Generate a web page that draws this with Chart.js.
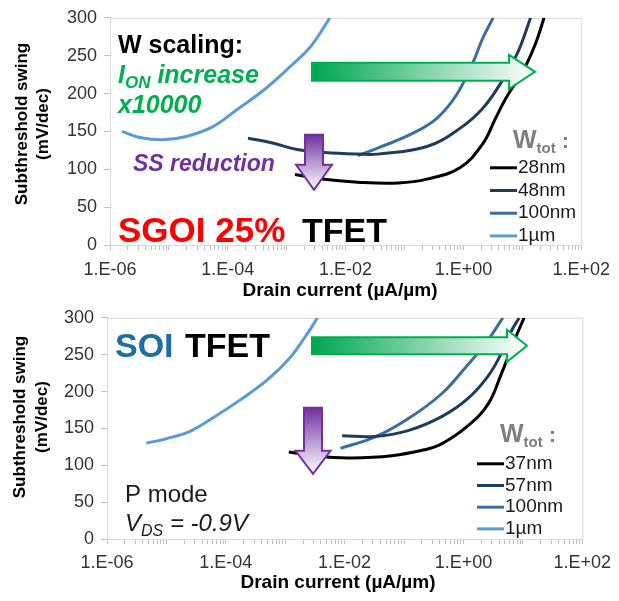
<!DOCTYPE html>
<html>
<head>
<meta charset="utf-8">
<script src="https://cdn.jsdelivr.net/npm/chart.js@4.4.1/dist/chart.umd.min.js"></script>
<style>
  body { margin: 0; background: #fff; }
  canvas { display: block; }
</style>
</head>
<body>
<canvas id="sgoiChart" width="619" height="300"></canvas>
<canvas id="soiChart" width="619" height="301"></canvas>
<script>
// SS vs drain current (current in uA/um, SS in mV/dec)
const sgoiLabels = ['28nm', '48nm', '100nm', '1µm'];
const sgoiI28 = [1.38e-3, 3.9e-3, 1.6e-2, 7.9e-2, 0.24, 0.87, 2.1, 3.5, 5.2, 7.8, 11.5, 17, 23.4];
const sgoiSS28 = [93, 87, 83, 82, 87, 102, 133, 167, 193, 215, 237, 267, 300];
const sgoiI48 = [2.2e-4, 5.5e-4, 1.5e-3, 4.4e-3, 1.6e-2, 3.5e-2, 0.24, 0.87, 2.1, 4.1, 6.0, 8.9, 13.8];
const sgoiSS48 = [141, 135, 126, 122, 120, 120, 130, 154, 180, 211, 233, 259, 300];
const sgoiI100 = [1.6e-2, 3.5e-2, 0.126, 0.35, 0.76, 1.45, 2.1, 3.2];
const sgoiSS100 = [118, 128, 146, 167, 198, 241, 272, 300];
const sgoiI1u = [1.6e-6, 3.2e-6, 7.9e-6, 1.9e-5, 5.5e-5, 1.5e-4, 4.3e-4, 1.2e-3, 2.6e-3, 5.4e-3];
const sgoiSS1u = [150, 142, 139, 143, 156, 180, 206, 237, 263, 300];

const soiLabels = ['37nm', '57nm', '100nm', '1µm'];
const soiI37 = [1.15e-3, 3.6e-3, 1.3e-2, 6.2e-2, 0.22, 0.43, 1.17, 2.6, 4.3, 6.3, 8.1, 10.5];
const soiSS37 = [118, 112, 110, 113, 121, 129, 153, 183, 223, 257, 279, 300];
const soiI57 = [9.1e-3, 3.2e-2, 0.117, 0.43, 1.17, 2.6, 4.3, 6.3, 8.7];
const soiSS57 = [140, 139, 147, 166, 190, 221, 251, 281, 300];
const soiI100 = [8.5e-3, 3.2e-2, 0.117, 0.43, 1.12, 2.4, 4.6];
const soiSS100 = [123, 138, 163, 197, 234, 266, 300];
const soiI1u = [4.6e-6, 1e-5, 2.5e-5, 6e-5, 1.7e-4, 4.7e-4, 1.15e-3, 2.2e-3, 3.5e-3];
const soiSS1u = [130, 136, 146, 164, 188, 214, 244, 275, 300];

// axis ticks
const xTickValues = [1e-6, 1e-4, 1e-2, 1, 100];
const xTickLabels = ['1.E-06', '1.E-04', '1.E-02', '1.E+00', '1.E+02'];
const yTickValues = [0, 50, 100, 150, 200, 250, 300];

const lineColors = ['#000000', '#1F3B5E', '#3D6D9E', '#5B9BD5'];
const FONT = '"Liberation Sans", Arial, sans-serif';

function pairs(xs, ys) {
    return xs.map((x, i) => ({ x: x, y: ys[i] }));
}

function makeDatasets(labels, series) {
    return series.map((s, i) => ({
        label: labels[i],
        data: pairs(s[0], s[1]),
        borderColor: lineColors[i],
        backgroundColor: lineColors[i],
        borderWidth: 3,
        pointRadius: 0,
        tension: 0.4,
        fill: false
    }));
}

// log ticks 1..9 per decade
function logTicks() {
    const out = [];
    for (let e = -6; e < 2; e++) {
        for (let k = 1; k < 10; k++) out.push(k * Math.pow(10, e));
    }
    out.push(100);
    return out;
}

function drawParts(ctx, parts, x, y) {
    ctx.textBaseline = 'alphabetic';
    ctx.textAlign = 'left';
    parts.forEach(p => {
        ctx.font = p.font;
        ctx.fillStyle = p.color;
        ctx.fillText(p.t, x, y + (p.dy || 0));
        x += ctx.measureText(p.t).width;
    });
}

function rightArrow(ctx, x0, xh, xt, cy, bh, hh) {
    const g = ctx.createLinearGradient(x0, 0, xt, 0);
    g.addColorStop(0, '#00A650');
    g.addColorStop(1, '#FFFFFF');
    ctx.beginPath();
    ctx.moveTo(x0, cy - bh);
    ctx.lineTo(xh, cy - bh);
    ctx.lineTo(xh, cy - hh);
    ctx.lineTo(xt, cy);
    ctx.lineTo(xh, cy + hh);
    ctx.lineTo(xh, cy + bh);
    ctx.lineTo(x0, cy + bh);
    ctx.closePath();
    ctx.fillStyle = g;
    ctx.fill();
    ctx.strokeStyle = '#00B050';
    ctx.lineWidth = 2;
    ctx.stroke();
}

function downArrow(ctx, cx, y0, yh, yt, bw, hw) {
    const g = ctx.createLinearGradient(0, y0, 0, yt);
    g.addColorStop(0, '#7030A0');
    g.addColorStop(1, '#FFFFFF');
    ctx.beginPath();
    ctx.moveTo(cx - bw, y0);
    ctx.lineTo(cx + bw, y0);
    ctx.lineTo(cx + bw, yh);
    ctx.lineTo(cx + hw, yh);
    ctx.lineTo(cx, yt);
    ctx.lineTo(cx - hw, yh);
    ctx.lineTo(cx - bw, yh);
    ctx.closePath();
    ctx.fillStyle = g;
    ctx.fill();
    ctx.strokeStyle = '#7030A0';
    ctx.lineWidth = 2;
    ctx.stroke();
}

function drawLegend(chart, lx, ly, gap, step) {
    const ctx = chart.ctx;
    const a = chart.chartArea;
    drawParts(ctx, [
        { t: 'W', font: 'bold 25px ' + FONT, color: '#7F7F7F' },
        { t: 'tot', font: 'bold 15px ' + FONT, color: '#7F7F7F', dy: 5 },
        { t: ' :', font: 'bold 22px ' + FONT, color: '#7F7F7F' }
    ], a.left + lx + 23, a.top + ly);
    chart.data.datasets.forEach((ds, i) => {
        const y = a.top + ly + gap + i * step;
        ctx.beginPath();
        ctx.moveTo(a.left + lx, y);
        ctx.lineTo(a.left + lx + 27, y);
        ctx.strokeStyle = ds.borderColor;
        ctx.lineWidth = 3;
        ctx.stroke();
        ctx.font = '19px ' + FONT;
        ctx.fillStyle = '#1A1A1A';
        ctx.textAlign = 'left';
        ctx.textBaseline = 'middle';
        ctx.fillText(ds.label, a.left + lx + 28, y);
    });
}

function drawAxisTitles(chart, t) {
    const ctx = chart.ctx;
    ctx.save();
    ctx.fillStyle = '#000';
    ctx.textAlign = 'center';
    ctx.textBaseline = 'middle';
    ctx.font = 'bold 17px ' + FONT;
    ctx.translate(t.yx1, t.yy);
    ctx.rotate(-Math.PI / 2);
    ctx.fillText('Subthreshold swing', 0, 0);
    ctx.fillText('(mV/dec)', 0, t.yx2 - t.yx1);
    ctx.restore();
    ctx.save();
    ctx.fillStyle = '#000';
    ctx.textAlign = 'center';
    ctx.textBaseline = 'middle';
    ctx.font = 'bold 19px ' + FONT;
    ctx.fillText('Drain current (µA/µm)', t.xx, t.xy);
    ctx.restore();
}

const frame = {
    id: 'frame',
    beforeDatasetsDraw(chart) {
        const a = chart.chartArea;
        const ctx = chart.ctx;
        ctx.save();
        ctx.strokeStyle = '#D9D9D9';
        ctx.lineWidth = 1;
        ctx.strokeRect(a.left + 0.5, a.top + 0.5, a.right - a.left, a.bottom - a.top);
        ctx.restore();
    }
};

function baseOptions(area, tickPad) {
    return {
        responsive: false,
        devicePixelRatio: 1,
        animation: false,
        layout: { padding: { top: area.top, right: area.right, left: 0, bottom: 0 } },
        plugins: { legend: { display: false }, tooltip: { enabled: false } },
        scales: {
            x: {
                type: 'logarithmic',
                min: 1e-6,
                max: 100,
                afterBuildTicks: scale => { scale.ticks = logTicks().map(v => ({ value: v })); },
                afterFit: scale => { scale.height = area.xh; },
                grid: { drawOnChartArea: false, tickLength: 5, tickColor: '#BFBFBF' },
                border: { color: '#BFBFBF' },
                ticks: {
                    autoSkip: false,
                    maxRotation: 0,
                    padding: tickPad,
                    color: '#333',
                    font: { family: FONT, size: 18 },
                    callback: v => {
                        const i = xTickValues.findIndex(t => Math.abs(v / t - 1) < 1e-6);
                        return i >= 0 ? xTickLabels[i] : '';
                    }
                }
            },
            y: {
                min: 0,
                max: 300,
                afterFit: scale => { scale.width = area.yw; },
                grid: { drawOnChartArea: false, tickLength: 6, tickColor: '#BFBFBF' },
                border: { color: '#BFBFBF' },
                ticks: {
                    stepSize: 25,
                    padding: 7,
                    color: '#333',
                    font: { family: FONT, size: 18 },
                    callback: v => yTickValues.includes(v) ? String(v) : ''
                }
            }
        }
    };
}

// SGOI 25% chart
new Chart(document.getElementById('sgoiChart'), {
    type: 'line',
    data: {
        datasets: makeDatasets(sgoiLabels, [
            [sgoiI28, sgoiSS28], [sgoiI48, sgoiSS48], [sgoiI100, sgoiSS100], [sgoiI1u, sgoiSS1u]
        ])
    },
    options: baseOptions({ top: 15, right: 33, xh: 55, yw: 110 }, 9),
    plugins: [frame, {
        id: 'sgoiNotes',
        afterDatasetsDraw(chart) {
            const ctx = chart.ctx;
            const a = chart.chartArea;
            const L = a.left, T = a.top;
            ctx.save();
            rightArrow(ctx, L + 202, L + 399, L + 425, T + 54, 9, 17);
            downArrow(ctx, L + 204, T + 117, T + 147, T + 172, 9, 18);
            drawParts(ctx, [{ t: 'W scaling:', font: 'bold 25px ' + FONT, color: '#000' }], L + 8, T + 35);
            drawParts(ctx, [
                { t: 'I', font: 'italic bold 25px ' + FONT, color: '#00B050' },
                { t: 'ON', font: 'italic bold 17px ' + FONT, color: '#00B050', dy: 5 },
                { t: ' increase', font: 'italic bold 25px ' + FONT, color: '#00B050' }
            ], L + 8, T + 65);
            drawParts(ctx, [{ t: 'x10000', font: 'italic bold 25px ' + FONT, color: '#00B050' }], L + 8, T + 95);
            drawParts(ctx, [{ t: 'SS reduction', font: 'italic bold 23px ' + FONT, color: '#7030A0' }], L + 23, T + 153);
            drawParts(ctx, [{ t: 'SGOI 25%', font: 'bold 35px ' + FONT, color: '#FF0000' }], L + 8, T + 224);
            drawParts(ctx, [{ t: 'TFET', font: 'bold 34px ' + FONT, color: '#000' }], L + 192, T + 224);
            drawLegend(chart, 380, 130, 20, 22.7);
            ctx.restore();
        },
        afterDraw(chart) {
            drawAxisTitles(chart, { yx1: 22, yx2: 43, yy: 124, xx: 340, xy: 291 });
        }
    }]
});

// SOI chart
new Chart(document.getElementById('soiChart'), {
    type: 'line',
    data: {
        datasets: makeDatasets(soiLabels, [
            [soiI37, soiSS37], [soiI57, soiSS57], [soiI100, soiSS100], [soiI1u, soiSS1u]
        ])
    },
    options: baseOptions({ top: 9, right: 34, xh: 62, yw: 107 }, 8),
    plugins: [frame, {
        id: 'soiNotes',
        afterDatasetsDraw(chart) {
            const ctx = chart.ctx;
            const a = chart.chartArea;
            const L = a.left, T = a.top;
            ctx.save();
            rightArrow(ctx, L + 205, L + 400, L + 420, T + 28, 8.5, 16);
            downArrow(ctx, L + 206, T + 90, T + 133, T + 156, 9, 17.5);
            drawParts(ctx, [{ t: 'SOI', font: 'bold 34px ' + FONT, color: '#1C6EA4' }], L + 8, T + 39);
            drawParts(ctx, [{ t: 'TFET', font: 'bold 34px ' + FONT, color: '#000' }], L + 78, T + 39);
            drawParts(ctx, [{ t: 'P mode', font: '24px ' + FONT, color: '#1A1A1A' }], L + 18, T + 184);
            drawParts(ctx, [
                { t: 'V', font: 'italic 24px ' + FONT, color: '#1A1A1A' },
                { t: 'DS', font: 'italic 16px ' + FONT, color: '#1A1A1A', dy: 5 },
                { t: ' = -0.9V', font: 'italic 24px ' + FONT, color: '#1A1A1A' }
            ], L + 18, T + 213);
            drawLegend(chart, 370, 124, 22, 21.7);
            ctx.restore();
        },
        afterDraw(chart) {
            drawAxisTitles(chart, { yx1: 20, yx2: 42, yy: 117, xx: 338, xy: 283 });
        }
    }]
});
</script>
</body>
</html>
